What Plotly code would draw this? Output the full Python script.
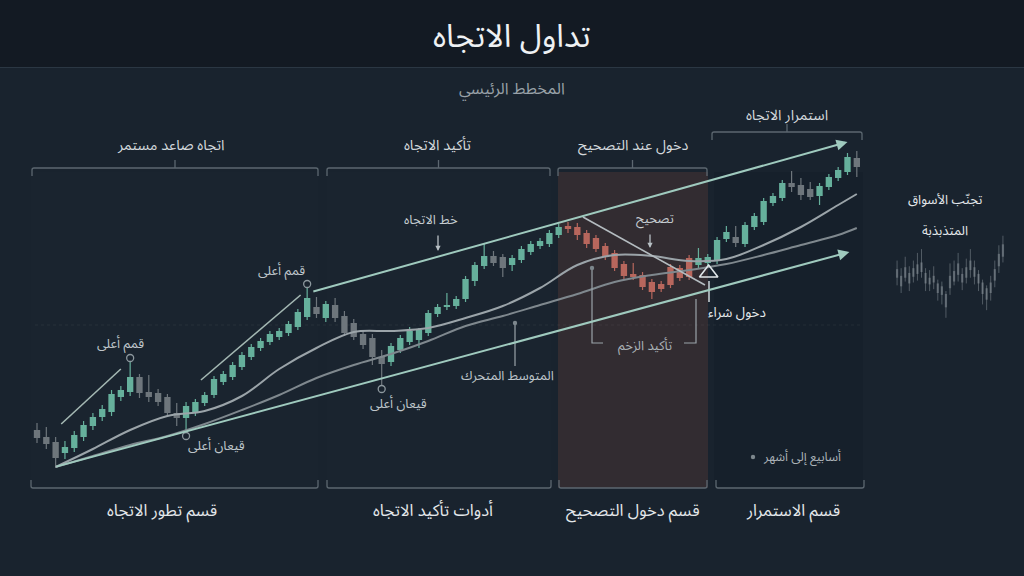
import plotly.graph_objects as go

# ---------------- DATA ----------------
# main price series (candle index 0..88)
cat = (["g", "g", "g"] + ["t"] * 8 + ["g"] * 5 + ["t"] * 14 + ["g", "t", "g", "g", "g", "g", "g", "g"]
       + ["t"] * 11 + ["g", "g"] + ["t"] * 6 + ["r"] * 14 + ["t"] * 4 + ["g"] + ["t"] * 5
       + ["g", "g", "g"] + ["t"] * 4 + ["g"])
opens = [146, 139, 134, 123, 128, 139, 150, 159, 164, 179, 184, 199, 184, 183, 179, 163, 158, 163, 173, 181,
         194, 199, 209, 219, 228, 234, 239, 243, 249, 259, 269, 258, 271, 260, 253, 242, 238, 219, 214, 226,
         234, 236, 243, 262, 269, 270, 277, 295, 310, 320, 319, 311, 316, 324, 330, 332, 341, 350, 349, 343,
         338, 330, 323, 312, 302, 301, 294, 292, 291, 298, 299, 311, 313, 315, 337, 339, 332, 349, 354, 373,
         378, 393, 391, 387, 380, 389, 398, 404, 418]
closes = [138, 132, 118, 129, 141, 151, 159, 167, 182, 186, 199, 183, 179, 174, 163, 158, 170, 174, 181, 197,
          202, 211, 221, 229, 235, 242, 245, 252, 264, 278, 262, 272, 258, 243, 239, 231, 219, 212, 230, 238,
          245, 246, 263, 269, 271, 277, 297, 311, 320, 313, 308, 318, 327, 332, 335, 343, 349, 347, 341, 332,
          327, 319, 308, 300, 299, 289, 284, 287, 309, 308, 318, 318, 319, 336, 344, 333, 351, 360, 375, 380,
          393, 389, 381, 379, 390, 399, 406, 419, 409]
highs = [153, 149, 139, 135, 145, 155, 163, 171, 186, 190, 214, 202, 201, 187, 182, 173, 174, 177, 184, 200,
         205, 214, 224, 232, 238, 245, 248, 255, 267, 288, 279, 275, 278, 265, 257, 246, 242, 226, 233, 241,
         249, 248, 266, 272, 283, 280, 300, 314, 333, 325, 322, 321, 330, 335, 338, 346, 352, 354, 353, 346,
         341, 333, 326, 315, 313, 304, 297, 295, 312, 311, 321, 328, 322, 339, 350, 350, 354, 363, 378, 383,
         396, 405, 398, 394, 393, 402, 409, 423, 425]
lows = [133, 127, 108, 117, 124, 135, 146, 155, 160, 175, 180, 178, 174, 170, 160, 150, 141, 160, 170, 178,
        191, 196, 206, 216, 225, 231, 236, 240, 246, 256, 258, 254, 254, 240, 236, 227, 211, 188, 210, 223,
        231, 228, 240, 259, 266, 267, 274, 290, 307, 310, 299, 305, 313, 321, 327, 329, 338, 343, 336, 328,
        324, 316, 305, 296, 296, 286, 277, 284, 288, 295, 296, 308, 310, 312, 334, 329, 329, 346, 351, 370,
        375, 384, 376, 376, 371, 386, 395, 401, 399]

# moving averages sampled every 4 candles
ma_idx = [2, 6, 10, 14, 18, 22, 26, 30, 34, 38, 42, 46, 50, 54, 58, 62, 66, 70, 74, 78, 82, 86, 88]
ma_fast = [109, 127, 146, 160, 165, 180, 207, 228, 244, 245, 248, 258, 270, 288, 311, 321, 320, 315, 317, 331,
           349, 371, 382]
ma_slow = [109, 120, 131, 140, 152, 166, 181, 198, 211, 222, 235, 250, 260, 271, 282, 294, 301, 306, 312, 321,
           331, 341, 348]

# trend lines (candle index, price)
upper_x, upper_y = [29.5, 87.0], [284, 434]
lower_x, lower_y = [1.9, 87.2], [109, 324]
leg1_x, leg1_y = [2.6, 9.0], [152, 207]
leg2_x, leg2_y = [17.6, 28.3], [196, 281]
corr_x, corr_y = [58.6, 71.7], [359, 291]
swing_x, swing_y = [10, 16, 29, 37], [218, 140, 292, 187]
entry_x, entry_y = [72.1], [303]

# choppy market mini chart
mini_open = [300, 302, 300, 305, 301, 304, 306, 305, 293, 302, 294, 291, 283, 289, 296, 303, 304, 300, 308, 311,
             304, 295, 289, 284, 297, 312, 322]
mini_close = [309, 291, 311, 294, 310, 314, 316, 294, 300, 295, 284, 282, 269, 302, 307, 315, 295, 311, 318, 301,
              294, 283, 277, 295, 309, 325, 335]
mini_high = [318, 310, 322, 312, 318, 326, 330, 310, 308, 312, 298, 296, 286, 315, 318, 326, 310, 320, 330, 318,
             308, 298, 292, 302, 318, 334, 344]
mini_low = [292, 284, 296, 286, 295, 297, 300, 286, 286, 288, 276, 272, 258, 282, 292, 296, 287, 294, 300, 293,
            286, 272, 266, 276, 290, 305, 316]

title = "تداول الاتجاه"
subtitle = "المخطط الرئيسي"
top_labels = ["اتجاه صاعد مستمر", "تأكيد الاتجاه", "دخول عند التصحيح", "استمرار الاتجاه"]
bottom_labels = ["قسم تطور الاتجاه", "أدوات تأكيد الاتجاه", "قسم دخول التصحيح", "قسم الاستمرار"]

# ---------------- STYLE ----------------
W, H = 1024, 576
BG = "#19232e"
FONT = "Noto Sans Arabic, DejaVu Sans, sans-serif"
COL = {"t": "#66b09c", "g": "#6e767c", "r": "#b8675d"}
MINT = "#9fcabe"


def X(p):
    return p / W


def Y(p):
    return 1 - p / H


fig = go.Figure()

# candle bodies
idx = list(range(len(opens)))
base = [min(o, c) for o, c in zip(opens, closes)]
hgt = [max(abs(c - o), 1.5) for o, c in zip(opens, closes)]
for k in ["g", "t", "r"]:
    wx, wy = [], []
    for i in idx:
        if cat[i] == k:
            wx += [i, i, None]
            wy += [lows[i], highs[i], None]
    fig.add_trace(go.Scatter(x=wx, y=wy, mode="lines", line=dict(color=COL[k], width=1.2),
                             hoverinfo="skip", xaxis="x", yaxis="y"))
fig.add_trace(go.Bar(x=idx, y=hgt, base=base, width=0.68,
                     marker=dict(color=[COL[c] for c in cat], line=dict(width=0)),
                     hoverinfo="skip", xaxis="x", yaxis="y"))

# moving averages
fig.add_trace(go.Scatter(x=ma_idx, y=ma_slow, mode="lines", line=dict(color="#7f888e", width=2, shape="spline"),
                         hoverinfo="skip"))
fig.add_trace(go.Scatter(x=ma_idx, y=ma_fast, mode="lines", line=dict(color="#9ba4a9", width=2, shape="spline"),
                         hoverinfo="skip"))

# auxiliary lines
for lx, ly, c, w in [(leg1_x, leg1_y, "#a4b8b3", 1.6), (leg2_x, leg2_y, "#a4b8b3", 1.6),
                     (corr_x, corr_y, "#b4bcc0", 1.6)]:
    fig.add_trace(go.Scatter(x=lx, y=ly, mode="lines", line=dict(color=c, width=w), hoverinfo="skip"))

# swing markers
fig.add_trace(go.Scatter(x=swing_x, y=swing_y, mode="markers",
                         marker=dict(size=7, color=BG, line=dict(color="#8d989e", width=1.3)),
                         hoverinfo="skip"))
# entry triangle
fig.add_trace(go.Scatter(x=entry_x, y=entry_y, mode="markers",
                         marker=dict(symbol="triangle-up-open", size=16, color="#dfe5e8",
                                     line=dict(width=1.6)), hoverinfo="skip"))

# mini choppy chart
mi = list(range(len(mini_open)))
mwx, mwy = [], []
for i in mi:
    mwx += [i, i, None]
    mwy += [mini_low[i], mini_high[i], None]
fig.add_trace(go.Scatter(x=mwx, y=mwy, mode="lines", line=dict(color="rgba(150,160,166,0.45)", width=1),
                         xaxis="x2", yaxis="y2", hoverinfo="skip"))
fig.add_trace(go.Bar(x=mi, y=[abs(c - o) for o, c in zip(mini_open, mini_close)],
                     base=[min(o, c) for o, c in zip(mini_open, mini_close)], width=0.55,
                     marker=dict(color="rgba(150,160,166,0.45)", line=dict(width=0)),
                     xaxis="x2", yaxis="y2", hoverinfo="skip"))

shapes = []
# header band
shapes.append(dict(type="rect", xref="paper", yref="paper", x0=0, x1=1, y0=Y(67), y1=1,
                   fillcolor="#131a23", line_width=0, layer="below"))
shapes.append(dict(type="line", xref="paper", yref="paper", x0=0, x1=1, y0=Y(67.5), y1=Y(67.5),
                   line=dict(color="#2b3743", width=1.2), layer="below"))
# section panels
panels = [(31, 318, "rgba(255,255,255,0.008)"), (327, 551, "rgba(255,255,255,0.008)"),
          (558, 708, "rgba(150,80,65,0.20)"), (714, 863, "rgba(10,20,30,0.15)")]
for x0, x1, c in panels:
    shapes.append(dict(type="rect", xref="paper", yref="paper", x0=X(x0), x1=X(x1), y0=Y(488), y1=Y(172),
                       fillcolor=c, line_width=0, layer="below"))
# faint dotted guide
shapes.append(dict(type="line", xref="paper", yref="paper", x0=X(35), x1=X(860), y0=Y(325), y1=Y(325),
                   line=dict(color="rgba(255,255,255,0.06)", width=1, dash="dot"), layer="below"))

BR = "#5c6770"
top_br = [(32, 318, 168), (327, 550, 168), (558, 707, 168), (712, 862, 132)]
for x0, x1, yb in top_br:
    path = f"M {X(x0)},{Y(yb+8)} L {X(x0)},{Y(yb+2)} Q {X(x0)},{Y(yb)} {X(x0+2)},{Y(yb)} " \
           f"L {X(x1-2)},{Y(yb)} Q {X(x1)},{Y(yb)} {X(x1)},{Y(yb+2)} L {X(x1)},{Y(yb+8)}"
    shapes.append(dict(type="path", xref="paper", yref="paper", path=path, line=dict(color=BR, width=1.3)))
    xm = (x0 + x1) / 2
    shapes.append(dict(type="line", xref="paper", yref="paper", x0=X(xm), x1=X(xm), y0=Y(yb - 8), y1=Y(yb),
                       line=dict(color=BR, width=1.3)))
bot_br = [(31, 318), (327, 551), (559, 707), (716, 864)]
for x0, x1 in bot_br:
    yb = 488
    path = f"M {X(x0)},{Y(yb-8)} L {X(x0)},{Y(yb-2)} Q {X(x0)},{Y(yb)} {X(x0+2)},{Y(yb)} " \
           f"L {X(x1-2)},{Y(yb)} Q {X(x1)},{Y(yb)} {X(x1)},{Y(yb-2)} L {X(x1)},{Y(yb-8)}"
    shapes.append(dict(type="path", xref="paper", yref="paper", path=path, line=dict(color=BR, width=1.3)))

# momentum bracket
LC = "#9aa3a9"
shapes.append(dict(type="path", xref="paper", yref="paper",
                   path=f"M {X(592)},{Y(268)} L {X(592)},{Y(343)} L {X(603)},{Y(343)}",
                   line=dict(color=LC, width=1.2)))
shapes.append(dict(type="path", xref="paper", yref="paper",
                   path=f"M {X(684)},{Y(343)} L {X(696)},{Y(343)} L {X(696)},{Y(299)}",
                   line=dict(color=LC, width=1.2)))
shapes.append(dict(type="line", xref="paper", yref="paper", x0=X(515), x1=X(515), y0=Y(324), y1=Y(366),
                   line=dict(color=LC, width=1.2)))
shapes.append(dict(type="line", xref="paper", yref="paper", x0=X(709), x1=X(709), y0=Y(281), y1=Y(302),
                   line=dict(color="#dfe5e8", width=1.4)))
for (cx, cy) in [(515, 323), (592, 268), (753, 457)]:
    shapes.append(dict(type="circle", xref="paper", yref="paper", x0=X(cx - 2.2), x1=X(cx + 2.2),
                       y0=Y(cy + 2.2), y1=Y(cy - 2.2), fillcolor="#7d878d", line_width=0))

ann = []


def txt(t, x, y, size, color, **kw):
    ann.append(dict(text=t, x=X(x), y=Y(y), xref="paper", yref="paper", showarrow=False,
                    font=dict(family=FONT, size=size, color=color), xanchor="center", yanchor="middle", **kw))


txt(title, 512, 37, 32, "#eef1f3")
txt(subtitle, 512, 89, 16, "#98a1a8")
for t, x, y in zip(top_labels, [170, 437, 633, 787], [145, 145, 145, 115]):
    txt(t, x, y, 14.5, "#d3d8dc")
for t, x in zip(bottom_labels, [162, 433, 633, 793]):
    txt(t, x, 510, 16.5, "#e3e7ea")
txt("قمم أعلى", 120, 344, 13, "#bfc6cb")
txt("قمم أعلى", 281, 271, 13, "#bfc6cb")
txt("قيعان أعلى", 216, 446, 13, "#bfc6cb")
txt("قيعان أعلى", 398, 404, 13, "#bfc6cb")
txt("خط الاتجاه", 431, 220, 13, "#c6cdd1")
txt("المتوسط المتحرك", 507, 376, 13, "#bfc6cb")
txt("تصحيح", 655, 219, 13, "#c6cdd1")
txt("دخول شراء", 737, 312, 13.5, "#e6eaec")
txt("تأكيد الزخم", 645, 346, 13, "#aab2b7")
txt("أسابيع إلى أشهر", 802, 457, 12.5, "#aab2b7")
txt("تجنّب الأسواق", 945, 200, 13, "#e3e7ea")
txt("المتذبذبة", 945, 231, 13, "#e3e7ea")

for (hx, hy, ln) in [(438, 251, 17), (650, 248, 15)]:
    ann.append(dict(x=X(hx), y=Y(hy), xref="paper", yref="paper", ax=0, ay=-ln, text="", showarrow=True,
                    arrowhead=2, arrowsize=0.8, arrowwidth=1.3, arrowcolor="#b7bfc4"))
for lx, ly in [(upper_x, upper_y), (lower_x, lower_y)]:
    ann.append(dict(x=lx[1], y=ly[1], ax=lx[0], ay=ly[0], xref="x", yref="y", axref="x", ayref="y",
                    text="", showarrow=True, arrowhead=2, arrowsize=1.1, arrowwidth=2, arrowcolor=MINT))

fig.update_layout(
    width=W, height=H, margin=dict(l=0, r=0, t=0, b=0),
    paper_bgcolor=BG, plot_bgcolor="rgba(0,0,0,0)", showlegend=False, barmode="overlay",
    xaxis=dict(range=[-37 / 9.316, (W - 37) / 9.316], domain=[0, 1], visible=False, fixedrange=True),
    yaxis=dict(range=[0, H], domain=[0, 1], visible=False, fixedrange=True),
    xaxis2=dict(range=[-1, 27], domain=[893 / W, 1007 / W], visible=False, anchor="y2"),
    yaxis2=dict(range=[240, 350], domain=[Y(335), Y(230)], visible=False, anchor="x2"),
    shapes=shapes, annotations=ann,
)
fig.write_html("out.html")
